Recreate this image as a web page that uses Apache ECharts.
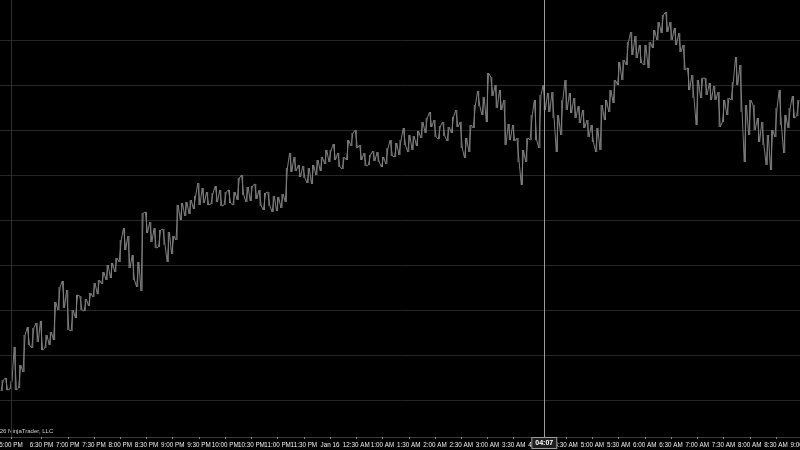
<!DOCTYPE html>
<html><head><meta charset="utf-8">
<script src="https://cdn.jsdelivr.net/npm/echarts@6/dist/echarts.min.js"></script>
<style>html,body{margin:0;padding:0;background:#000;overflow:hidden}#c{width:800px;height:450px}</style>
</head><body><div id="c"></div>
<script>
// ---- data (5-minute bars, Jan 15 -> Jan 16) ----
const preBreakTimes = ['16:50','16:55','17:00'];
const sessionStartMin = 18 * 60;      // 18:00
const sessionLengthMin = 15 * 60;     // until 09:00
const barMinutes = 5;

const highs = [
 6907,6907.4,6906.8,6913.6,6910,6916,6917.6,6917.4,6918.4,6918.8,
 6916,6916.6,6922.6,6925.6,6926.8,6925,6921,6924,6923.8,6923.2,
 6924.4,6926.4,6927,6928.6,6930,6930.4,6931.4,6935,6937.4,6935.8,
 6932,6930.6,6940.4,6940.6,6938.6,6937.4,6937,6937.2,6936.6,6935.8,
 6942,6942.4,6942.6,6943,6943.8,6946.4,6945.4,6944.6,6944.4,6945.8,
 6945,6944.6,6945,6944.6,6947.4,6948,6945.6,6945.8,6946.2,6945,
 6944.4,6944.6,6943.8,6943.6,6944.2,6949.4,6952.4,6951.6,6950,6949.8,
 6949.4,6950,6951,6951.6,6953,6953,6954.2,6952.4,6951.6,6955,
 6956.4,6957,6954,6952.4,6952,6952.8,6952.6,6951.6,6953.4,6955,
 6954.4,6955,6957.4,6956,6955.8,6956.8,6958.6,6959.4,6960.6,6959,
 6957.8,6958.6,6957.6,6959.6,6961,6958.6,6955.4,6958,6962,6964.8,
 6963.6,6968.4,6967.6,6966,6965,6963,6958.2,6958,6955.4,6953,
 6955.4,6960,6963,6964,6966,6964.4,6964.6,6960,6963,6967,
 6964.4,6963.4,6961.8,6961,6959,6958,6957.4,6962,6963,6965,
 6967,6970.6,6971,6974.6,6976.6,6975.8,6974,6974,6974.6,6977,
 6978.6,6980,6980.6,6978.6,6977.4,6976.4,6974,6969.4,6968,6967,
 6967.4,6967.4,6966.4,6965.8,6964.6,6963,6963.4,6966.6,6971.6,6970,
 6962,6963,6962,6959.4,6958.6,6956,6957,6961.4,6965,6960,
 6961.4,6963.8,6963
];
const lows = [
 6904.8,6905,6905.2,6905,6905.4,6908.6,6914,6913.4,6914.6,6913,
 6913.4,6914,6915,6921,6921.4,6917,6916.8,6919.4,6921,6920.8,
 6921.8,6923.6,6924.2,6926.2,6927,6927.4,6928.6,6930.6,6933,6929.4,
 6927,6925.6,6924.8,6936.4,6934.6,6933.4,6933.6,6934,6930.6,6932.2,
 6935,6939,6939.8,6940.2,6941.2,6942,6942.4,6942,6942.2,6942.6,
 6941.8,6942,6942.4,6942,6943,6944,6942.6,6942.8,6943.2,6941.8,
 6941,6941.8,6940.6,6940.8,6941.4,6942.6,6948.6,6948.8,6947.6,6947.4,
 6946.4,6946.2,6948,6948.8,6950.2,6950.6,6951,6949.6,6949.2,6951,
 6953.8,6953.4,6951,6949.8,6950,6950.8,6950.6,6949.6,6950.2,6951.8,
 6951.6,6952,6954,6952.6,6953,6953.8,6955.4,6956.4,6957.6,6955.6,
 6955.2,6955.8,6954.8,6956.4,6957.6,6953.4,6951.4,6952.6,6957.4,6961.8,
 6960,6958.6,6963.8,6961.4,6961,6954,6955,6954.8,6950.6,6946,
 6950.6,6955,6955,6953.4,6961,6960.6,6959.4,6952.6,6956,6961,
 6960.4,6959.4,6958.4,6957.4,6955.6,6954.6,6952.6,6953,6959,6960.6,
 6962.4,6966,6967,6970,6972,6971.4,6970.4,6970,6969.4,6973.4,
 6975,6976.4,6976.6,6975,6974,6972.6,6969,6965,6963.4,6958,
 6963.4,6964,6963,6963,6957.6,6958.6,6960,6963,6966,6960.6,
 6950.6,6956,6957,6954.6,6954,6950,6949,6955.6,6958,6952.4,
 6957.4,6959.4,6959.8
];

const tickTimes = ['17:00','18:30','19:00','19:30','20:00','20:30','21:00','21:30','22:00','22:30','23:00','23:30',
 '00:00','00:30','01:00','01:30','02:00','02:30','03:00','03:30','04:00','04:30','05:00','05:30','06:00','06:30',
 '07:00','07:30','08:00','08:30','09:00'];
const tickLabels = ['5:00 PM','6:30 PM','7:00 PM','7:30 PM','8:00 PM','8:30 PM','9:00 PM','9:30 PM','10:00 PM','10:30 PM','11:00 PM','11:30 PM',
 'Jan 16','12:30 AM','1:00 AM','1:30 AM','2:00 AM','2:30 AM','3:00 AM','3:30 AM','4:00 AM','4:30 AM','5:00 AM','5:30 AM','6:00 AM','6:30 AM',
 '7:00 AM','7:30 AM','8:00 AM','8:30 AM','9:00 AM'];

const sessionBreakTime = '17:00';
const crosshairTime = '04:05';
const crosshairLabel = '04:07';
const copyrightText = '\u00a9 2026 NinjaTrader, LLC';

// ---- categories (bar timestamps) ----
const pad = n => (n < 10 ? '0' : '') + n;
const categories = preBreakTimes.slice();
for (let m = sessionStartMin; m <= sessionStartMin + sessionLengthMin; m += barMinutes) {
  const t = m % 1440;
  categories.push(pad(Math.floor(t / 60)) + ':' + pad(t % 60));
}
const labelMap = {};
tickTimes.forEach((t, k) => labelMap[t] = tickLabels[k]);
const showTick = (idx, val) => labelMap[val] !== undefined;

// ---- render ----
const chart = echarts.init(document.getElementById('c'), null, {renderer: 'canvas'});
const mid = i => (highs[i] + lows[i]) / 2;
const endsHigh = i => (i + 1 < highs.length) ? mid(i + 1) >= mid(i) : true;

const BAR_COLOR = '#7e7e7e';
const gridDef = {left: 0, right: -4.4, containLabel: false, outerBoundsMode: 'none'};

chart.setOption({
  backgroundColor: '#000',
  animation: false,
  grid: [
    Object.assign({top: 40, bottom: 50}, gridDef),
    Object.assign({top: 0, bottom: 13}, gridDef)
  ],
  xAxis: [
    {type: 'category', gridIndex: 0, data: categories, show: false, boundaryGap: true},
    {type: 'category', gridIndex: 1, data: categories, boundaryGap: true,
     axisLine: {show: true, lineStyle: {color: '#3a3a3a'}},
     axisTick: {show: true, alignWithLabel: true, interval: showTick, length: 2, lineStyle: {color: '#8a8a8a'}},
     axisLabel: {interval: showTick, formatter: v => labelMap[v] || '', color: '#ececec', fontSize: 6.3,
                 fontFamily: 'Liberation Sans', margin: 5},
     splitLine: {show: false}}
  ],
  yAxis: [
    {type: 'value', gridIndex: 0, min: 6903, max: 6975, interval: 9,
     axisLine: {show: false}, axisTick: {show: false}, axisLabel: {show: false},
     splitLine: {show: true, lineStyle: {color: '#262626', width: 1}}},
    {type: 'value', gridIndex: 1, min: 0, max: 1, show: false, splitLine: {show: false}}
  ],
  series: [
    {
      type: 'line', xAxisIndex: 1, yAxisIndex: 1, data: [], silent: true, z: 1,
      markLine: {
        silent: true, symbol: ['none', 'none'], animation: false,
        data: [
          [{coord: [sessionBreakTime, 0], lineStyle: {color: '#303030', type: 'solid', width: 1}, label: {show: false}},
           {coord: [sessionBreakTime, 1]}]
        ]
      }
    },
    {
      type: 'custom', xAxisIndex: 0, yAxisIndex: 0, clip: false, z: 3,
      data: highs.map((h, i) => [i, lows[i], h]),
      encode: {x: 0, y: [1, 2]},
      renderItem: (params, api) => {
        const i = params.dataIndex;
        const w = api.size([1, 0])[0];
        const up = endsHigh(i);
        const first = up ? lows[i] : highs[i];
        const second = up ? highs[i] : lows[i];
        const pts = [];
        if (i > 0) {
          const pe = api.coord([i - 1, endsHigh(i - 1) ? highs[i - 1] : lows[i - 1]]);
          pts.push([pe[0] + w / 4, pe[1]]);
        }
        const p1 = api.coord([i, first]);
        const p2 = api.coord([i, second]);
        pts.push([p1[0] - w / 4, p1[1]]);
        pts.push([p2[0] + w / 4, p2[1]]);
        const hi = api.coord([i, highs[i]]);
        const lo = api.coord([i, lows[i]]);
        return {type: 'group', children: [
          {type: 'polyline', shape: {points: pts},
           style: {stroke: BAR_COLOR, lineWidth: 1, fill: null}},
          {type: 'line', shape: {x1: hi[0], y1: hi[1], x2: lo[0], y2: lo[1]},
           style: {stroke: BAR_COLOR, lineWidth: 1}}
        ]};
      }
    },
    {
      type: 'line', xAxisIndex: 1, yAxisIndex: 1, data: [], silent: true, z: 5,
      markLine: {
        silent: true, symbol: ['none', 'none'], animation: false,
        data: [
          [{coord: [crosshairTime, 0], lineStyle: {color: '#9a9a9a', type: 'solid', width: 1},
            label: {show: true, position: 'start', formatter: crosshairLabel, distance: 1,
                    color: '#ffffff', fontSize: 7, fontWeight: 'bold', fontFamily: 'Liberation Sans',
                    backgroundColor: '#1e1e1e', borderColor: '#9a9a9a', borderWidth: 1, padding: [2, 3, 1, 3]}},
           {coord: [crosshairTime, 1]}]
        ]
      }
    }
  ],
  graphic: [
    {type: 'text', left: -13, top: 428, silent: true,
     style: {text: copyrightText, fill: '#d0d0d0', font: '6px "Liberation Sans"'}}
  ]
});
</script></body></html>
